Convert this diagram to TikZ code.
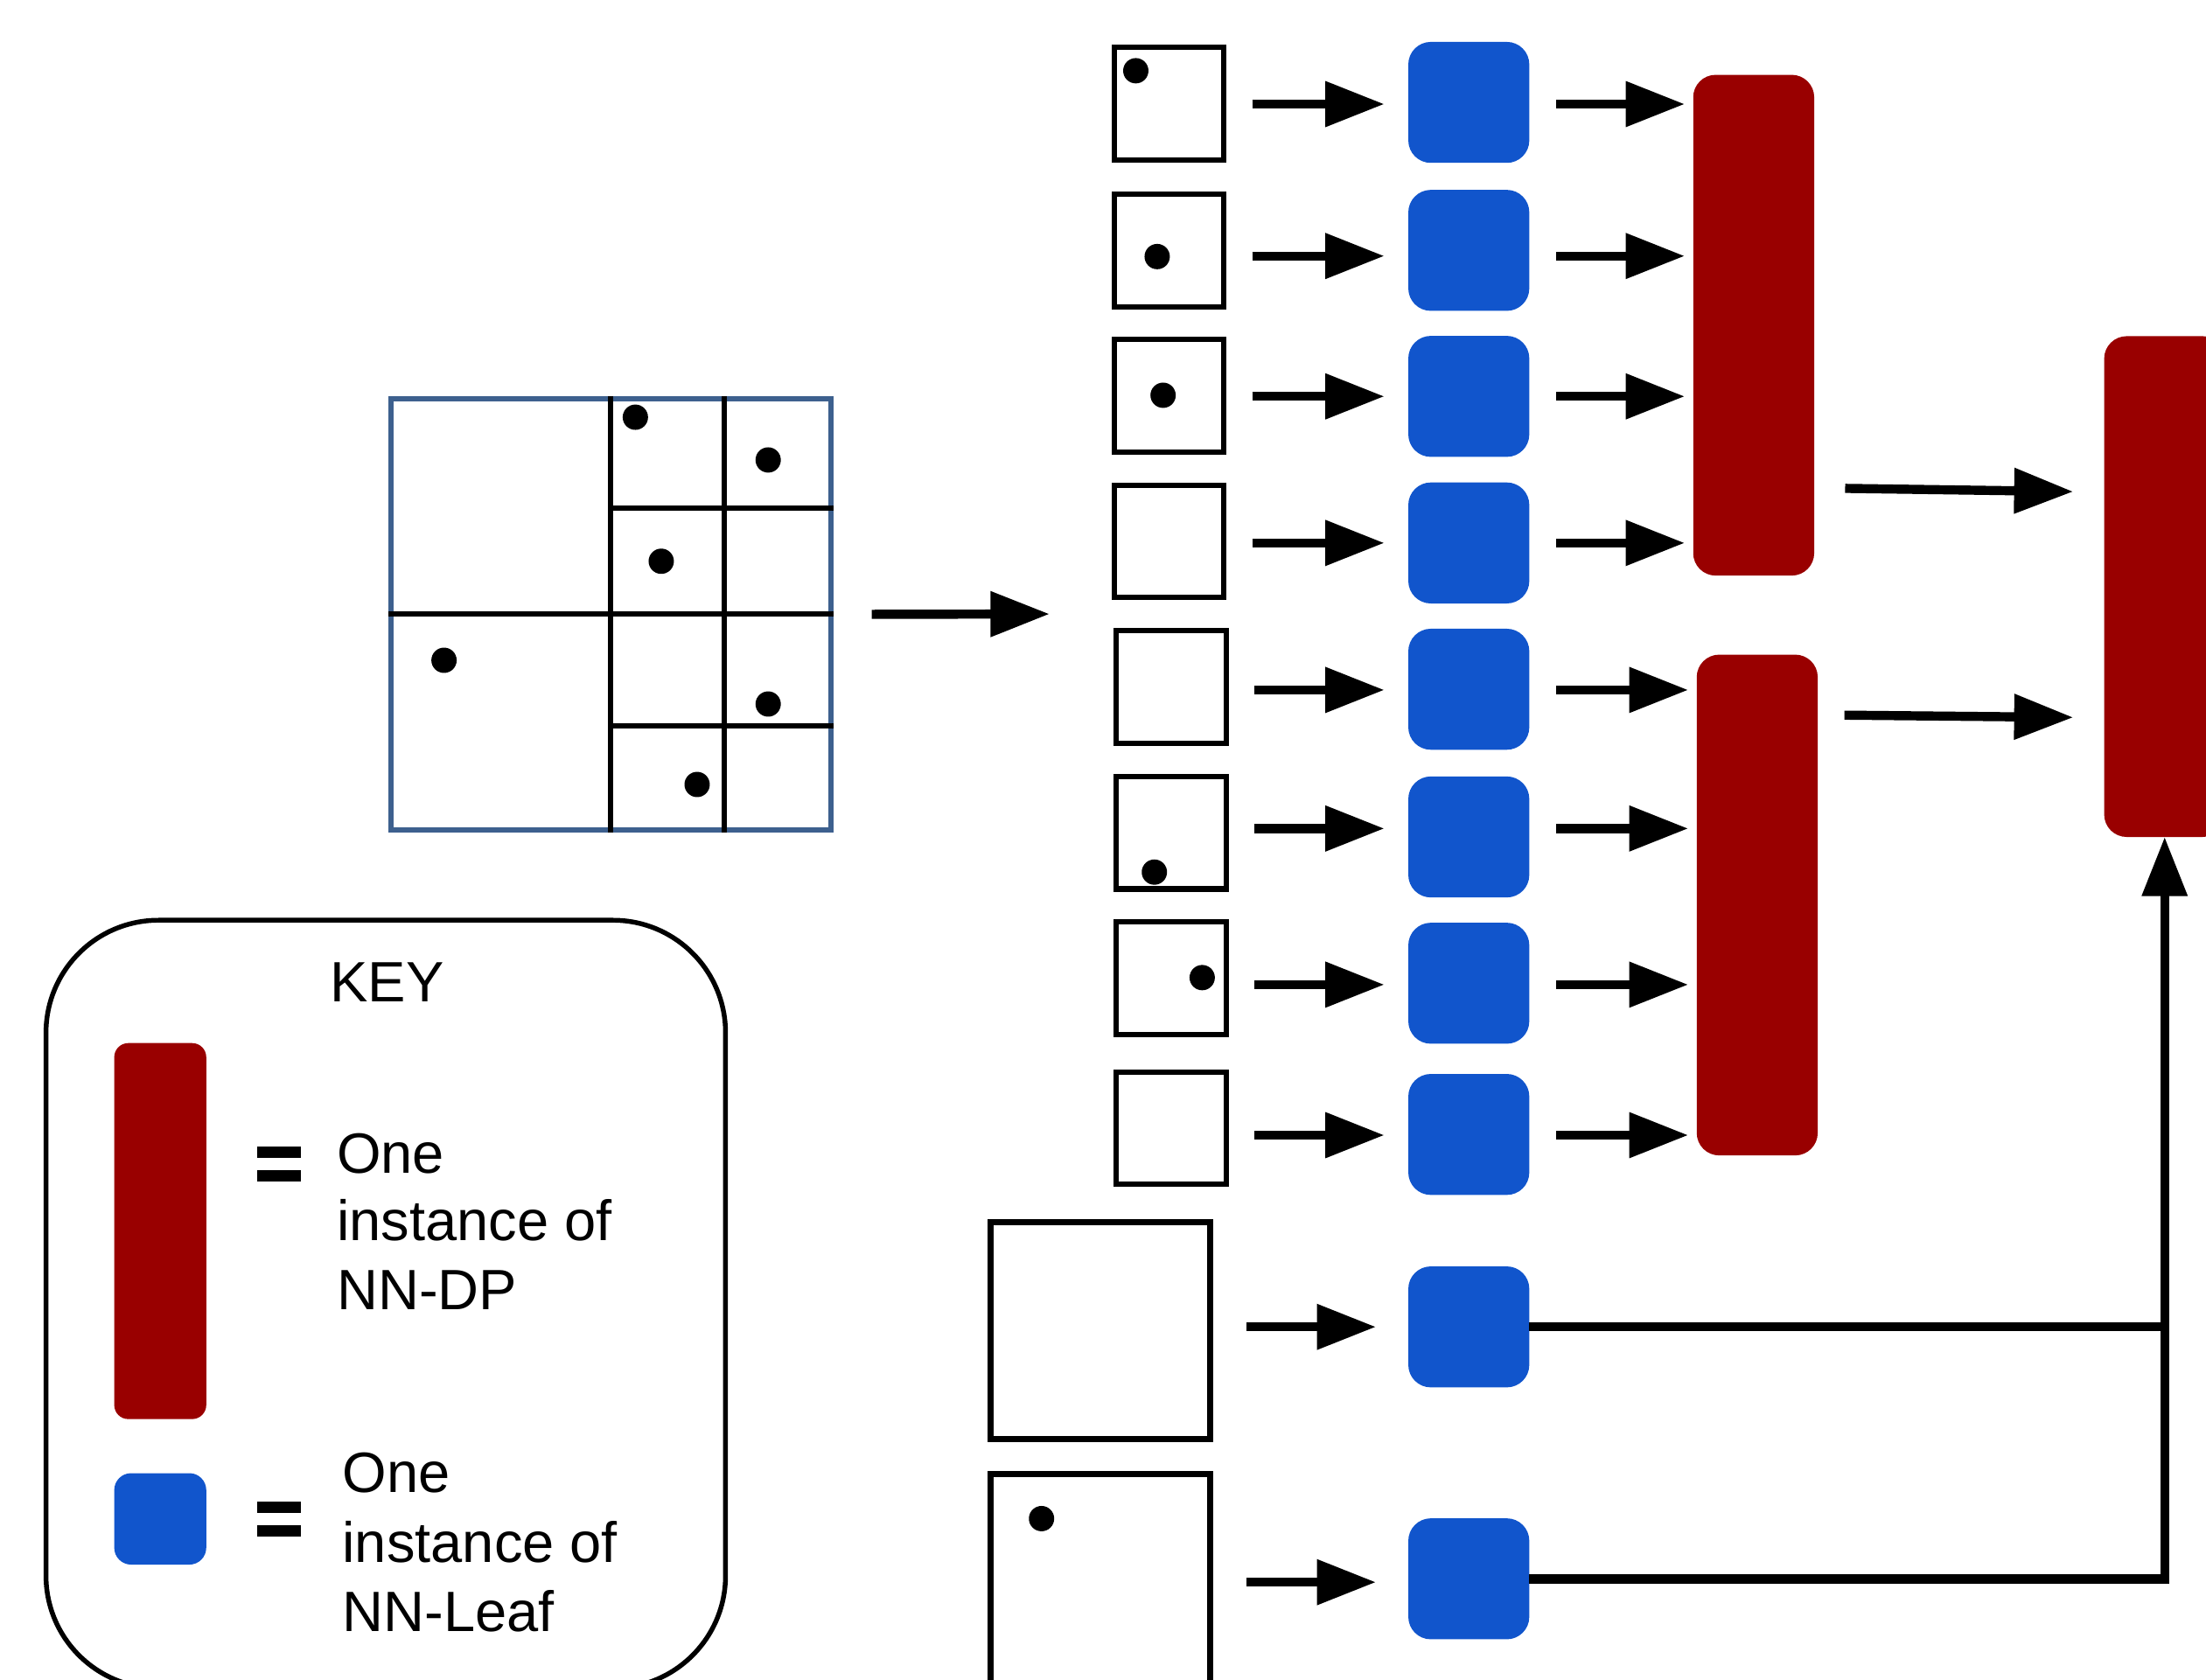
\documentclass[tikz,border=0pt]{standalone}
\usepackage{fontspec}
\setmainfont{Liberation Sans}
\usetikzlibrary{arrows.meta,calc}
\newlength\upx
\setlength\upx{0.16084mm}
\definecolor{leafblue}{RGB}{17,85,204}
\definecolor{dpred}{RGB}{153,0,0}
\definecolor{gridblue}{RGB}{61,96,142}
\begin{document}
\begin{tikzpicture}[x=\upx,y=-\upx,
  cell/.style={draw=black, line width=3.8\upx, minimum width=78\upx, minimum height=80\upx, inner sep=0, outer sep=0},
  bigcell/.style={draw=black, line width=4.2\upx, minimum width=156\upx, minimum height=154\upx, inner sep=0, outer sep=0},
  leaf/.style={fill=leafblue, rounded corners=16\upx, minimum width=86\upx, minimum height=86\upx, inner sep=0, outer sep=0},
  dp/.style={fill=dpred, rounded corners=16\upx, minimum width=86\upx, minimum height=356\upx, inner sep=0, outer sep=0},
  pnt/.style={fill=black, circle, minimum size=18\upx, inner sep=0, outer sep=0},
  arr/.style={line width=2.97pt, -{Triangle[length=19.22pt, width=14.19pt]}},
  wire/.style={line width=2.97pt},
  gline/.style={draw=black, line width=3.8\upx},
  keytext/.style={font=\fontsize{18.5}{22}\selectfont, inner sep=0, anchor=base west},
]
\useasboundingbox (0,0) rectangle (1568,1194);
\clip (0,0) rectangle (1568,1194);

% ---------- input grid ----------
\node[draw=gridblue, line width=3.8\upx, minimum width=312.7\upx, minimum height=306.7\upx, inner sep=0, outer sep=0] (grid) at (434.25,436.75) {};
\draw[gline] (434,281.5) -- (434,592);
\draw[gline] (515,281.5) -- (515,592);
\draw[gline] (276,436.5) -- (592.5,436.5);
\draw[gline] (434,361) -- (592.5,361);
\draw[gline] (434,516) -- (592.5,516);
\node[pnt] (g1) at (451.6,296.6) {};
\node[pnt] (g2) at (546,327) {};
\node[pnt] (g3) at (470,399) {};
\node[pnt] (g4) at (315.6,469.4) {};
\node[pnt] (g5) at (546,500.5) {};
\node[pnt] (g6) at (495.5,557.7) {};
\coordinate (split) at (746,436.5);
\draw[arr] ($(grid.east)+(29,0)$) -- (split);

% ---------- DP nodes ----------
\node[dp] (r1) at (1246.5,231.2) {};
\node[dp] (r2) at (1249,643.4) {};
\node[dp, minimum height=356\upx] (R) at (1538.6,417) {};

% ---------- cells, leaves and arrows (rows 1-8) ----------
\foreach \i/\cx/\cy/\ly/\dd/\tg in {1/831/73.7/72.8/1.2/r1, 2/831/178/178/4/r1, 3/831/281.4/281.8/0/r1, 4/831/384.8/386/0/r1,
  5/832.5/488.5/490/0.5/r2, 6/832.5/592/595/-6/r2, 7/832.5/695.5/699/1/r2, 8/832.5/802/806.5/0.5/r2}{
  \node[cell] (c\i) at (\cx,\cy) {};
  \node[leaf] (l\i) at (1044,\ly) {};
  \draw[arr] ($(c\i.east |- l\i.east)+(20,\dd)$) -- ($(l\i.west)+(-17,\dd)$);
  \draw[arr] ($(l\i.east)+(19,\dd)$) -- ($(l\i.east -| \tg.west)+(-6,\dd)$);
}
\node[pnt] (d1) at (807.3,50.3) {};
\node[pnt] (d2) at (822.5,182.4) {};
\node[pnt] (d3) at (826.7,281) {};
\node[pnt] (d6) at (820.5,620) {};
\node[pnt] (d7) at (854.5,695) {};

% ---------- DP to root ----------
\draw[arr] ($(r1.east)+(22,116)$) -- ($(R.west)+(-22,-67.5)$);
\draw[arr] ($(r2.east)+(19,-135)$) -- ($(R.west)+(-22,93)$);

% ---------- rows 9-10 ----------
\node[bigcell] (c9) at (782,946) {};
\node[bigcell] (c10) at (782,1125) {};
\node[pnt] (d10) at (740.3,1079.6) {};
\node[leaf] (l9) at (1044,943.3) {};
\node[leaf] (l10) at (1044,1122.4) {};
\draw[arr] ($(c9.east |- l9.east)+(26,0)$) -- ($(l9.west)+(-23,0)$);
\draw[arr] ($(c10.east |- l10.east)+(26,2.4)$) -- ($(l10.west)+(-23,2.4)$);
\draw[wire] (l9.east) -- (l9.east -| R.south);
\draw[arr] (l10.east) -| (R.south);

% ---------- key ----------
\node[draw=black, line width=3.4\upx, rounded corners=80\upx, minimum width=483\upx, minimum height=546\upx, inner sep=0] (key) at (274.2,927.2) {};
\node[font=\fontsize{18.5}{22}\selectfont, inner sep=0, anchor=base] (keytitle) at (275,712) {KEY};
\node[fill=dpred, rounded corners=10\upx, minimum width=65.4\upx, minimum height=267.3\upx, inner sep=0] (kdp) at (113.9,875.2) {};
\node[fill=leafblue, rounded corners=12\upx, minimum width=65.4\upx, minimum height=65\upx, inner sep=0] (kleaf) at (113.9,1079.8) {};
\fill[black] (183,815) rectangle (214,823);
\fill[black] (183,832) rectangle (214,840);
\fill[black] (183,1067.5) rectangle (214,1075.6);
\fill[black] (183,1084) rectangle (214,1092.4);
\node[keytext] (k1a) at (239,834) {One};
\node[keytext] (k1b) at (239,882) {instance of};
\node[keytext] (k1c) at (239,931) {NN-DP};
\node[keytext] (k2a) at (243,1061) {One};
\node[keytext] (k2b) at (243,1111) {instance of};
\node[keytext] (k2c) at (243,1160) {NN-Leaf};
\end{tikzpicture}
\end{document}
